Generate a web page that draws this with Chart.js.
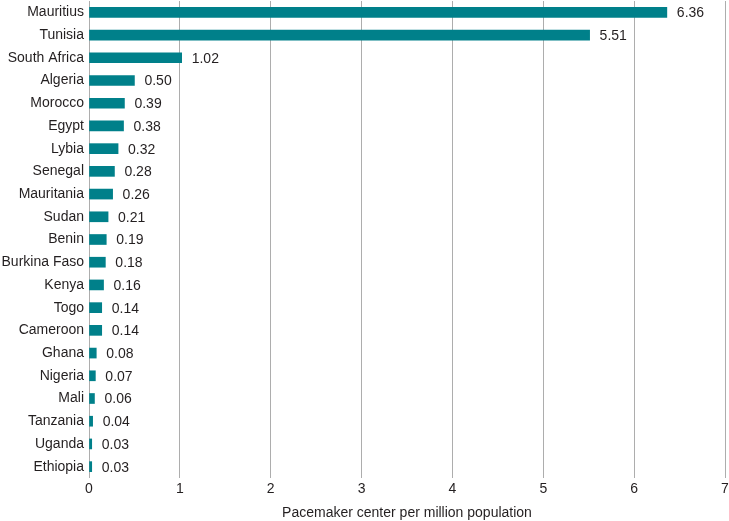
<!DOCTYPE html>
<html>
<head>
<meta charset="utf-8">
<script src="https://cdn.jsdelivr.net/npm/chart.js@4"></script>
<style>
  html, body { margin: 0; padding: 0; background: #fff; }
  #wrap { width: 729px; height: 521px; }
</style>
</head>
<body>
<div id="wrap"><canvas id="chart" width="729" height="521"></canvas></div>
<script>
// Data
const countries = ["Mauritius", "Tunisia", "South Africa", "Algeria", "Morocco", "Egypt", "Lybia",
  "Senegal", "Mauritania", "Sudan", "Benin", "Burkina Faso", "Kenya", "Togo", "Cameroon",
  "Ghana", "Nigeria", "Mali", "Tanzania", "Uganda", "Ethiopia"];
const centersPerMillion = [6.36, 5.51, 1.02, 0.50, 0.39, 0.38, 0.32, 0.28, 0.26, 0.21, 0.19,
  0.18, 0.16, 0.14, 0.14, 0.08, 0.07, 0.06, 0.04, 0.03, 0.03];
const xTicks = [0, 1, 2, 3, 4, 5, 6, 7];
const xTitle = "Pacemaker center per million population";

const FONT = "'Liberation Sans', Arial, Helvetica, sans-serif";
const TEXT = "#231f20";
const BAR = "#00808a";

// value labels at the end of each bar
const valueLabels = {
  id: "valueLabels",
  afterDatasetsDraw(chart) {
    const c = chart.ctx;
    const meta = chart.getDatasetMeta(0);
    c.save();
    c.font = "14px " + FONT;
    c.fillStyle = TEXT;
    c.textAlign = "left";
    c.textBaseline = "middle";
    meta.data.forEach((bar, i) => {
      c.fillText(centersPerMillion[i].toFixed(2), bar.x + 10, bar.y + 1);
    });
    c.restore();
  }
};

// keep the plot area flush with the canvas edges like the reference
function noPad(axis) {
  axis.paddingTop = 0;
  axis.paddingBottom = 0;
  axis.paddingLeft = 0;
  axis.paddingRight = 0;
}

new Chart(document.getElementById("chart"), {
  type: "bar",
  data: {
    labels: countries,
    datasets: [{
      data: centersPerMillion,
      backgroundColor: BAR,
      barThickness: 10
    }]
  },
  options: {
    indexAxis: "y",
    responsive: false,
    animation: false,
    layout: { padding: { top: 1, right: 4, left: 0, bottom: 0 } },
    plugins: {
      legend: { display: false },
      tooltip: { enabled: false }
    },
    scales: {
      x: {
        min: 0,
        max: 7,
        afterBuildTicks(axis) { axis.ticks = xTicks.map(v => ({ value: v })); },
        afterFit(axis) { axis.height = 43; noPad(axis); },
        grid: { color: "#adadad", lineWidth: 1, drawTicks: false },
        border: { display: false },
        ticks: { color: TEXT, font: { family: FONT, size: 14 }, padding: 3 },
        title: {
          display: true,
          text: xTitle,
          color: TEXT,
          font: { family: FONT, size: 14 },
          padding: { top: 5, bottom: -1 }
        }
      },
      y: {
        afterFit(axis) { axis.width = 89; noPad(axis); },
        grid: { display: false, drawTicks: false },
        border: { display: false },
        ticks: { color: TEXT, font: { family: FONT, size: 14 }, padding: 5 }
      }
    }
  },
  plugins: [valueLabels]
});
</script>
</body>
</html>
